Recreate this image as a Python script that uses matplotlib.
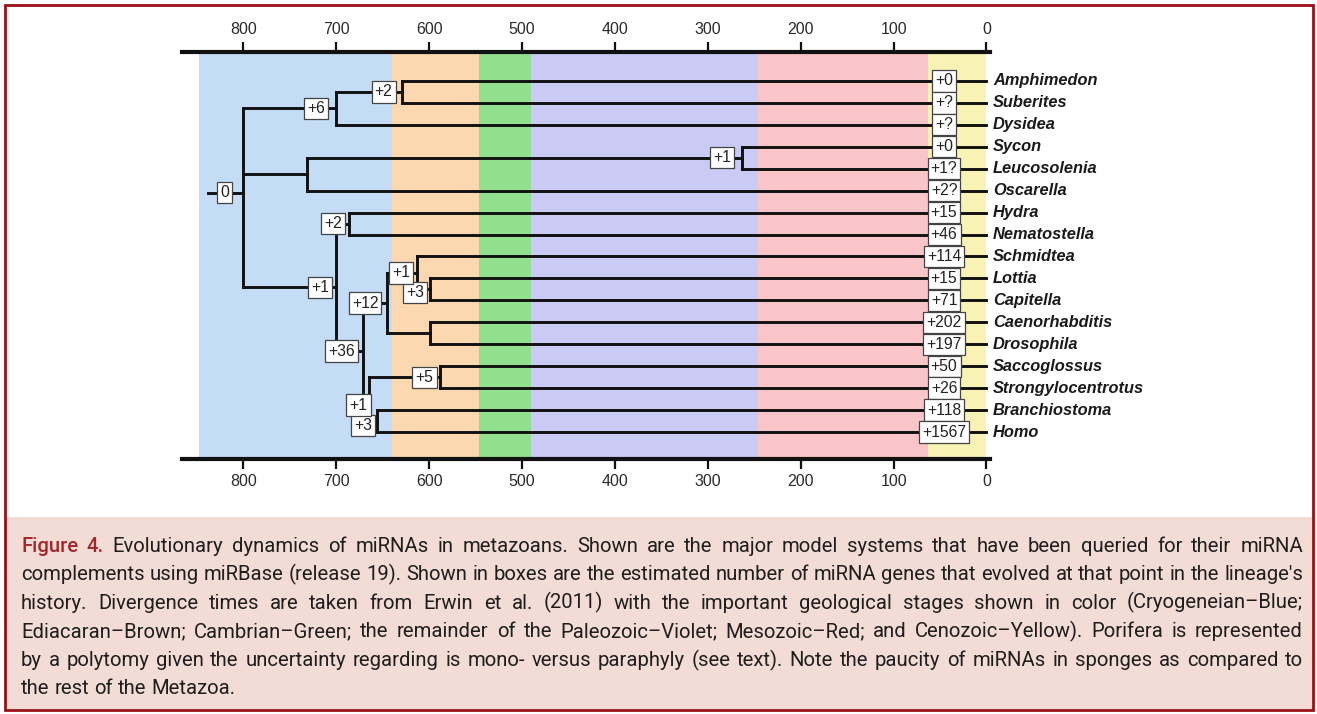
import matplotlib
matplotlib.use("Agg")
import matplotlib.pyplot as plt
from matplotlib.font_manager import FontProperties
from matplotlib.patches import Rectangle

# ---------------- data ----------------
taxa = ["Amphimedon", "Suberites", "Dysidea", "Sycon", "Leucosolenia", "Oscarella",
        "Hydra", "Nematostella", "Schmidtea", "Lottia", "Capitella", "Caenorhabditis",
        "Drosophila", "Saccoglossus", "Strongylocentrotus", "Branchiostoma", "Homo"]
leaf_gains = ["+0", "+?", "+?", "+0", "+1?", "+2?", "+15", "+46", "+114", "+15", "+71",
              "+202", "+197", "+50", "+26", "+118", "+1567"]

# internal nodes: age (Ma) and children
node_age = {"AS": 629, "Demo": 700, "Calc": 263, "CalcOsc": 731, "Cnid": 686,
            "LC": 599, "Loph": 613, "Ecd": 599, "Prot": 645, "Amb": 588,
            "Chor": 656, "Deut": 665, "Bil": 671, "Eum": 700, "Root": 800}
node_children = {"AS": ["Amphimedon", "Suberites"], "Demo": ["AS", "Dysidea"],
                 "Calc": ["Sycon", "Leucosolenia"], "CalcOsc": ["Calc", "Oscarella"],
                 "Cnid": ["Hydra", "Nematostella"], "LC": ["Lottia", "Capitella"],
                 "Loph": ["Schmidtea", "LC"], "Ecd": ["Caenorhabditis", "Drosophila"],
                 "Prot": ["Loph", "Ecd"], "Amb": ["Saccoglossus", "Strongylocentrotus"],
                 "Chor": ["Branchiostoma", "Homo"], "Deut": ["Amb", "Chor"],
                 "Bil": ["Prot", "Deut"], "Eum": ["Cnid", "Bil"],
                 "Root": ["Demo", "CalcOsc", "Eum"]}
node_order = ["AS", "Demo", "Calc", "CalcOsc", "Cnid", "LC", "Loph", "Ecd", "Prot",
              "Amb", "Chor", "Deut", "Bil", "Eum", "Root"]

# miRNA gains on internal branches: label and box position (Ma)
branch_gain = {"AS": "+2", "Demo": "+6", "Calc": "+1", "Cnid": "+2", "LC": "+3",
               "Loph": "+1", "Prot": "+12", "Amb": "+5", "Chor": "+3", "Deut": "+1",
               "Bil": "+36", "Eum": "+1", "Root": "0"}
branch_box_age = {"AS": 649, "Demo": 722, "Calc": 285, "Cnid": 703, "LC": 615,
                  "Loph": 630, "Prot": 669, "Amb": 605, "Chor": 671, "Deut": 676,
                  "Bil": 694, "Eum": 717, "Root": 820}
branch_box_dy = {"LC": 0.15, "Deut": 0.27, "Chor": 0.2, "Root": -0.23}
root_stub_age = 838
leaf_box_age = 45.7

# geological periods (Ma): start, end, colour
period_start = [848, 640, 546, 490, 246, 63]
period_end = [640, 546, 490, 246, 63, 0]
period_color = ["#c4dcf5", "#fbd8b0", "#90e08f", "#c9cbf5", "#fac5c9", "#f8f2b4"]

xticks = [800, 700, 600, 500, 400, 300, 200, 100, 0]

caption_lines = [
    "Figure 4. Evolutionary dynamics of miRNAs in metazoans. Shown are the major model systems that have been queried for their miRNA",
    "complements using miRBase (release 19). Shown in boxes are the estimated number of miRNA genes that evolved at that point in the lineage's",
    "history. Divergence times are taken from Erwin et al. (2011) with the important geological stages shown in color (Cryogeneian\u2013Blue;",
    "Ediacaran\u2013Brown; Cambrian\u2013Green; the remainder of the Paleozoic\u2013Violet; Mesozoic\u2013Red; and Cenozoic\u2013Yellow). Porifera is represented",
    "by a polytomy given the uncertainty regarding is mono- versus paraphyly (see text). Note the paucity of miRNAs in sponges as compared to",
    "the rest of the Metazoa.",
]

# ---------------- figure ----------------
W, H, DPI = 1317, 714, 100
plt.rcParams["font.family"] = ["Liberation Sans", "DejaVu Sans"]
fig = plt.figure(figsize=(W / DPI, H / DPI), dpi=DPI)
fig.patch.set_facecolor("white")

# caption panel and border
fig.add_artist(Rectangle((6 / W, 1 - 709 / H), 1306 / W, (709 - 517) / H,
                         transform=fig.transFigure, fc="#f2dcd5", ec="none", zorder=0))
fig.add_artist(Rectangle((5 / W, 1 - 710 / H), 1308 / W, 705 / H,
                         transform=fig.transFigure, fill=False, ec="#9b1016", lw=2.0, zorder=10))

ax = fig.add_axes([182 / W, 1 - 459 / H, 808 / W, (459 - 52) / H])
ax.set_xlim(866, -3.8)
ax.set_ylim(17.23, -1.32)

for s, e, c in zip(period_start, period_end, period_color):
    ax.axvspan(e, s, color=c, lw=0, zorder=0)

# rows
row = {t: i for i, t in enumerate(taxa)}
age = {t: 0.0 for t in taxa}
for n in node_order:
    ch = node_children[n]
    row[n] = sum(row[c] for c in ch) / len(ch) if n != "Root" else None
    age[n] = node_age[n]
rch = [row[c] for c in node_children["Root"]]
row["Root"] = (min(rch) + max(rch)) / 2

LW = 2.1
lk = dict(color="#111111", lw=LW, solid_capstyle="projecting", zorder=2)
for n in node_order:
    ch = node_children[n]
    rs = [row[c] for c in ch]
    ax.plot([age[n], age[n]], [min(rs), max(rs)], **lk)
    for c in ch:
        ax.plot([age[n], age[c]], [row[c], row[c]], **lk)

root_row = row["Root"] + branch_box_dy["Root"]
ax.plot([root_stub_age, age["Root"]], [root_row, root_row], **lk)

box = dict(boxstyle="square,pad=0.2", fc="white", ec="#444444", lw=0.9)
for n, lab in branch_gain.items():
    ax.text(branch_box_age[n], row[n] + branch_box_dy.get(n, 0), lab, ha="center",
            va="center", fontsize=11.3, color="#222222", bbox=box, zorder=5)

for t, g in zip(taxa, leaf_gains):
    ax.text(leaf_box_age, row[t], g, ha="center", va="center", fontsize=11.3,
            color="#222222", bbox=box, zorder=5)
    ax.text(-7, row[t], t, ha="left", va="center", fontsize=11.8, fontweight="bold",
            fontstyle="italic", color="#1a1a1a", clip_on=False, zorder=5)

ax.set_xticks(xticks)
ax.set_xticklabels([str(v) for v in xticks])
ax.set_yticks([])
ax.tick_params(axis="x", top=True, labeltop=True, bottom=True, labelbottom=True,
               direction="out", length=7, width=1.6, labelsize=11.5, pad=4,
               colors="#111111", labelcolor="#2a2a2a")
for sp in ["left", "right"]:
    ax.spines[sp].set_visible(False)
for sp in ["top", "bottom"]:
    ax.spines[sp].set_linewidth(3.0)
    ax.spines[sp].set_color("#111111")
ax.patch.set_visible(False)

# ---------------- caption (justified) ----------------
def make_fp(size, weight="normal"):
    return FontProperties(family=["Roboto", "DejaVu Sans"], size=size, weight=weight)

renderer = fig.canvas.get_renderer()

def tw(s, fp):
    t = fig.text(0, 0, s, fontproperties=fp)
    w = t.get_window_extent(renderer).width
    t.remove()
    return w

X0, X1 = 21, 1303
nat = tw(caption_lines[1], make_fp(12))
size = max(9.5, min(15, 12 * (X1 - X0 - 4) / nat))
fp = make_fp(size)
fp_red = make_fp(size, "medium")

line_y = [545, 573.6, 602.2, 630.8, 659.4, 688]
red_words = 2
for li, (line, yc) in enumerate(zip(caption_lines, line_y)):
    words = line.split(" ")
    fps = [fp_red if (li == 0 and wi < red_words) else fp for wi in range(len(words))]
    widths = [tw(w, f) for w, f in zip(words, fps)]
    if li < len(caption_lines) - 1:
        gap = (X1 - X0 - sum(widths)) / (len(words) - 1)
    else:
        gap = tw("a a", fp) - tw("aa", fp)
    x = X0
    yb = 1 - (yc + 6.5) / H
    for wi, (w, wd, f) in enumerate(zip(words, widths, fps)):
        col = "#a3262b" if (li == 0 and wi < red_words) else "#1e1e1e"
        fig.text(x / W, yb, w, fontproperties=f, color=col, ha="left", va="baseline")
        x += wd + gap

fig.savefig("out.png", dpi=DPI)
